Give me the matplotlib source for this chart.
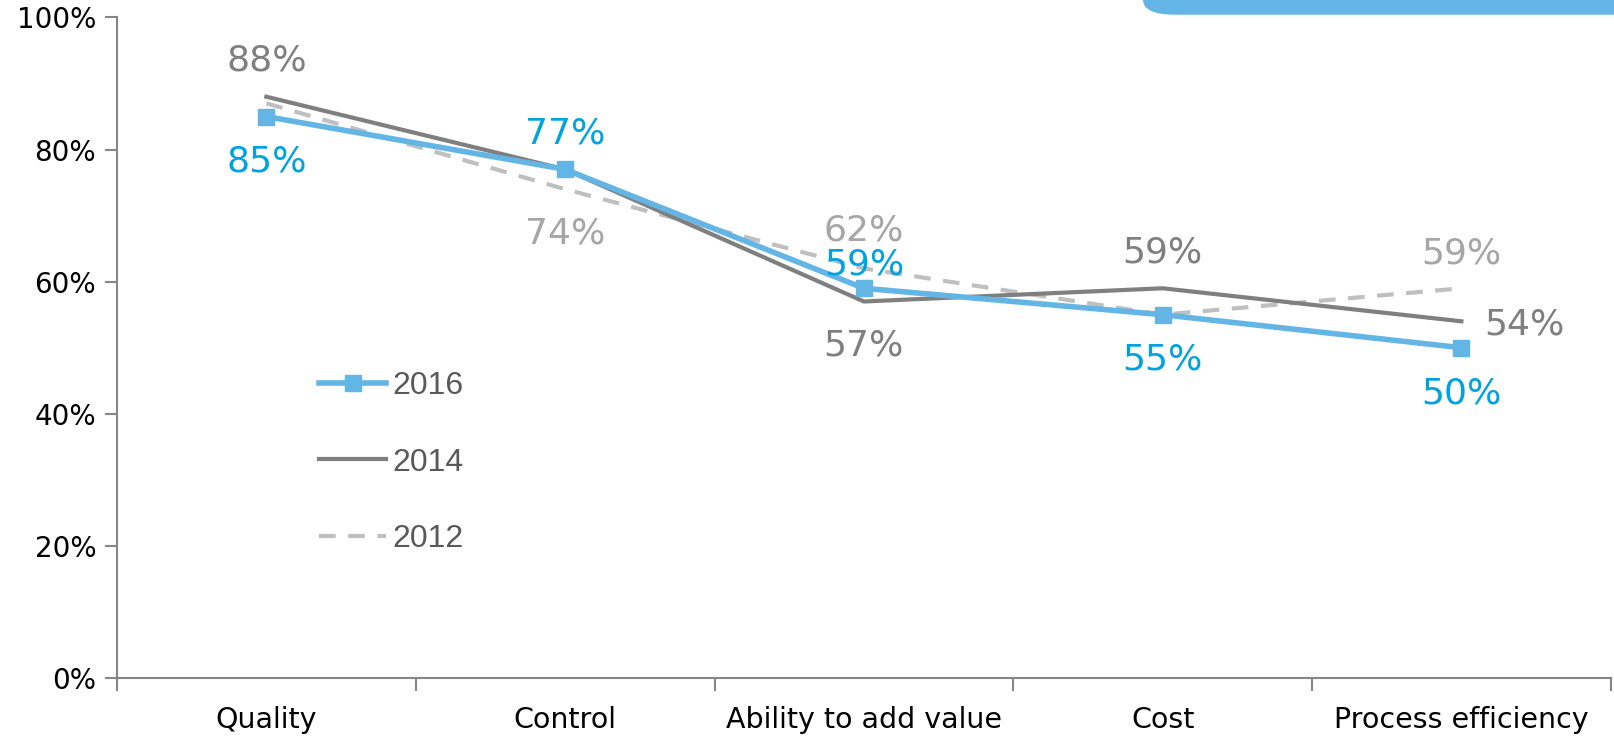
import numpy as np
import matplotlib.pyplot as plt
from matplotlib.patches import FancyBboxPatch
from matplotlib.ticker import FuncFormatter

# data
categories = ['Quality', 'Control', 'Ability to add value', 'Cost', 'Process efficiency']
y2016 = [85, 77, 59, 55, 50]
y2014 = [88, 77, 57, 59, 54]
y2012 = [87, 74, 62, 55, 59]

# which values carry a label, and where (dx, dy in pixels)
lab2016 = [(0, -45), (0, 36), (0, 24), (0, -45), (0, -46)]
lab2014 = [(0, 36), None, (0, -44), (0, 36), (63, -3)]
lab2012 = [None, (0, -44), (0, 38), None, (0, 35)]

blue = '#62b5e5'
blue_txt = '#00a3e0'
dark = '#7f7f7f'
light = '#bfbfbf'
light_txt = '#a6a6a6'

fig = plt.figure(figsize=(16.14, 7.43), dpi=100)
ax = fig.add_axes([0.0725, 0.0875, 0.9255, 0.889])

x = np.arange(len(categories))
ax.plot(x, y2012, color=light, lw=3, ls=(0, (4, 3)), label='2012', zorder=2)
ax.plot(x, y2014, color=dark, lw=3, label='2014', zorder=3)
ax.plot(x, y2016, color=blue, lw=4, marker='s', ms=11, label='2016', zorder=4)

def put_labels(vals, offs, col):
    for i, (v, o) in enumerate(zip(vals, offs)):
        if o is None:
            continue
        ax.annotate(f'{v}%', (x[i], v), xytext=o, textcoords='offset pixels',
                    ha='center', va='center', fontsize=26, color=col, zorder=5)

put_labels(y2016, lab2016, blue_txt)
put_labels(y2014, lab2014, dark)
put_labels(y2012, lab2012, light_txt)

ax.set_xlim(-0.5, len(categories) - 0.5)
ax.set_ylim(0, 100)
ax.set_yticks(range(0, 101, 20))
ax.yaxis.set_major_formatter(FuncFormatter(lambda v, p: f'{v:.0f}%'))
ax.set_xticks(np.arange(-0.5, len(categories), 1.0))
ax.set_xticklabels([])
ax.set_xticks(x, minor=True)
ax.set_xticklabels(categories, minor=True, fontsize=20.5)
ax.tick_params(axis='x', which='minor', length=0, pad=20)
ax.tick_params(axis='x', which='major', length=9, color='#868686', width=1.5)
ax.tick_params(axis='y', length=9, color='#868686', width=1.5, labelsize=20, pad=6)

for s in ['top', 'right']:
    ax.spines[s].set_visible(False)
for s in ['left', 'bottom']:
    ax.spines[s].set_color('#868686')
    ax.spines[s].set_linewidth(1.5)

h, l = ax.get_legend_handles_labels()
leg = ax.legend(h[::-1], l[::-1], loc='upper left', bbox_to_anchor=(0.116, 0.508),
                frameon=False, prop={'family': 'Liberation Sans', 'size': 23},
                labelspacing=1.45, handlelength=2.1, handletextpad=0.2,
                labelcolor='#595959')

# blue tab at the top right
tab = FancyBboxPatch((1143 / 1614, 14.7 / 743 * -1 + 1), 0.4, 0.05,
                     boxstyle='round,pad=0,rounding_size=0.02',
                     transform=fig.transFigure, facecolor=blue, edgecolor='none',
                     mutation_aspect=743 / 1614 * 2.2)
fig.patches.append(tab)

fig.savefig('out.png', dpi=100)
